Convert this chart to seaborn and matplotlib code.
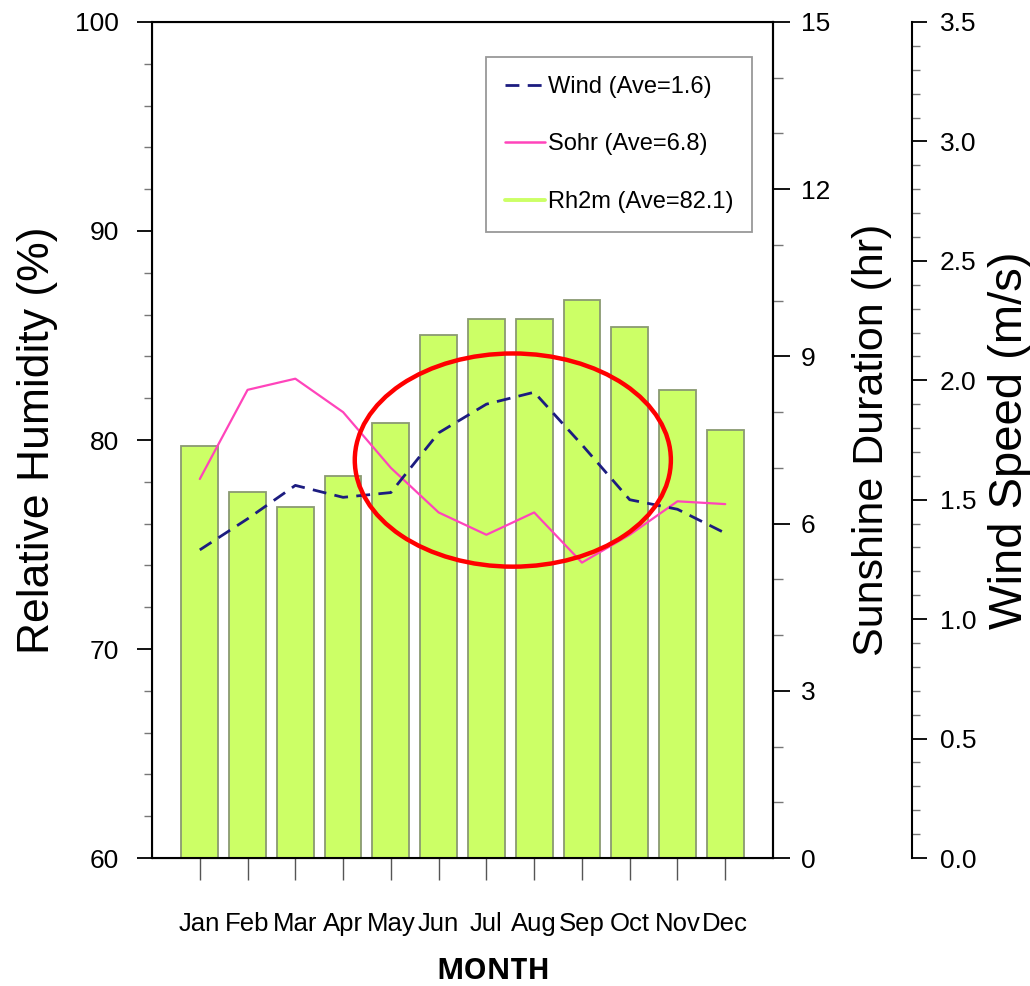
#%%
import numpy as np                              # for positions.
import pandas as pd                             # for wrapping data.
import seaborn as sns                           # for plotting.
import matplotlib.pyplot as plt
from matplotlib.ticker import MultipleLocator, FormatStrFormatter
from matplotlib.patches import Ellipse
from matplotlib.lines import Line2D
sns.set_style("ticks")
plt.rcParams['font.family'] = ['Liberation Sans', 'DejaVu Sans']
for k in ['text.color', 'axes.labelcolor', 'xtick.color', 'ytick.color',
          'axes.edgecolor']:
    plt.rcParams[k] = 'black'

#%%
# Monthly climatology.
months = ["Jan", "Feb", "Mar", "Apr", "May", "Jun",
          "Jul", "Aug", "Sep", "Oct", "Nov", "Dec"]
rh2m = [79.7, 77.5, 76.8, 78.3, 80.8, 85.0, 85.8, 85.8, 86.7, 85.4, 82.4, 80.5]  # %
sohr = [6.8, 8.4, 8.6, 8.0, 7.0, 6.2, 5.8, 6.2, 5.3, 5.8, 6.4, 6.35]           # hr
wind = [1.29, 1.42, 1.56, 1.51, 1.53, 1.78, 1.90, 1.95, 1.73, 1.50, 1.46, 1.36]  # m/s
legend_labels = ["Wind (Ave=1.6)", "Sohr (Ave=6.8)", "Rh2m (Ave=82.1)"]

df = pd.DataFrame({
    "month": months,
    "pos": np.arange(len(months)),
    "rh2m": rh2m,
    "sohr": sohr,
    "wind": wind,
})

bar_color = "#ccff66"
sohr_color = "#ff44bb"
wind_color = "#1c1c80"
wind_dash = (0, (5, 3))

#%%
fig = plt.figure(figsize = (10.3, 9.86), dpi = 100)
ax = fig.add_axes([0.1476, 0.1298, 0.6029, 0.8479])

# Relative humidity bars (left axis).
sns.barplot(data = df, x = "month", y = "rh2m", order = months,
            color = bar_color, saturation = 1, width = 0.77,
            edgecolor = "#8a9a72", linewidth = 1.3, ax = ax)
ax.set_ylim(60, 100)
ax.yaxis.set_major_locator(MultipleLocator(10))
ax.yaxis.set_minor_locator(MultipleLocator(2))
ax.tick_params(axis = 'y', which = 'major', direction = 'out', length = 11,
               width = 1.3, pad = 13, labelsize = 19)
ax.tick_params(axis = 'y', which = 'minor', direction = 'out', length = 6,
               width = 1, color = '#777777')
ax.tick_params(axis = 'x', which = 'major', direction = 'out', length = 16,
               width = 1, color = '#555555', pad = 23, labelsize = 18.5)
for s in ax.spines.values():
    s.set_linewidth(1.5)

# Sunshine duration (first right axis).
ax2 = ax.twinx()
sns.lineplot(data = df, x = "pos", y = "sohr", color = sohr_color,
             lw = 1.6, ax = ax2)
ax2.set_ylim(0, 15)
ax2.yaxis.set_major_locator(MultipleLocator(3))
ax2.yaxis.set_minor_locator(MultipleLocator(1))
ax2.tick_params(axis = 'y', which = 'major', direction = 'out', length = 12,
                width = 1.3, pad = 8, labelsize = 19)
ax2.tick_params(axis = 'y', which = 'minor', direction = 'out', length = 7,
                width = 1, color = '#777777')
ax2.spines['right'].set_linewidth(1.5)

# Wind speed (offset right axis).
ax3 = ax.twinx()
ax3.spines['right'].set_position(('axes', 1.2239))
for k in ['top', 'bottom', 'left']:
    ax3.spines[k].set_visible(False)
ax3.spines['right'].set_linewidth(1.5)
sns.lineplot(data = df, x = "pos", y = "wind", color = wind_color,
             lw = 2.0, linestyle = wind_dash, ax = ax3)
ax3.set_ylim(0, 3.5)
ax3.yaxis.set_major_locator(MultipleLocator(0.5))
ax3.yaxis.set_minor_locator(MultipleLocator(0.1))
ax3.yaxis.set_major_formatter(FormatStrFormatter('%.1f'))
ax3.tick_params(axis = 'y', which = 'major', direction = 'out', length = 11,
                width = 1.3, pad = 9, labelsize = 19)
ax3.tick_params(axis = 'y', which = 'minor', direction = 'out', length = 6,
                width = 1, color = '#777777')

ax.set_xlim(-1, len(months))

#%%
# Axis titles.
ax.set_ylabel("Relative Humidity (%)", fontsize = 32)
ax.yaxis.label.set_va('center')
ax.yaxis.set_label_coords(-0.185, 0.5)
ax2.set_ylabel("Sunshine Duration (hr)", fontsize = 31)
ax2.yaxis.label.set_va('center')
ax2.yaxis.set_label_coords(1.159, 0.5)
ax3.set_ylabel("Wind Speed (m/s)", fontsize = 34)
ax3.yaxis.label.set_va('center')
ax3.yaxis.set_label_coords(1.3816, 0.5)
ax.set_xlabel("MONTH", fontsize = 21, fontweight = 'bold',
              fontfamily = ['Open Sans', 'DejaVu Sans'])
ax.xaxis.label.set_va('top')
ax.xaxis.set_label_coords(0.549, -0.118)

# Legend in the upper right corner.
handles = [
    Line2D([], [], color = wind_color, lw = 2.0, linestyle = wind_dash),
    Line2D([], [], color = sohr_color, lw = 1.8),
    Line2D([], [], color = bar_color, lw = 2.8),
]
leg = ax3.legend(handles, legend_labels, loc = 'upper right',
                 bbox_to_anchor = (0.966, 0.958), borderaxespad = 0,
                 fontsize = 17, handlelength = 1.7, handletextpad = 0.1,
                 labelspacing = 1.5, borderpad = 0.8, frameon = True,
                 fancybox = False, edgecolor = '#999999', framealpha = 1)
leg.get_frame().set_linewidth(1.3)

# Red ellipse highlighting the summer months.
ax3.add_patch(Ellipse((0.581, 0.476), 0.509, 0.255, transform = ax3.transAxes,
                      fill = False, ec = '#ff0000', lw = 3.2, zorder = 5))

plt.savefig("out.png", dpi = 100)
